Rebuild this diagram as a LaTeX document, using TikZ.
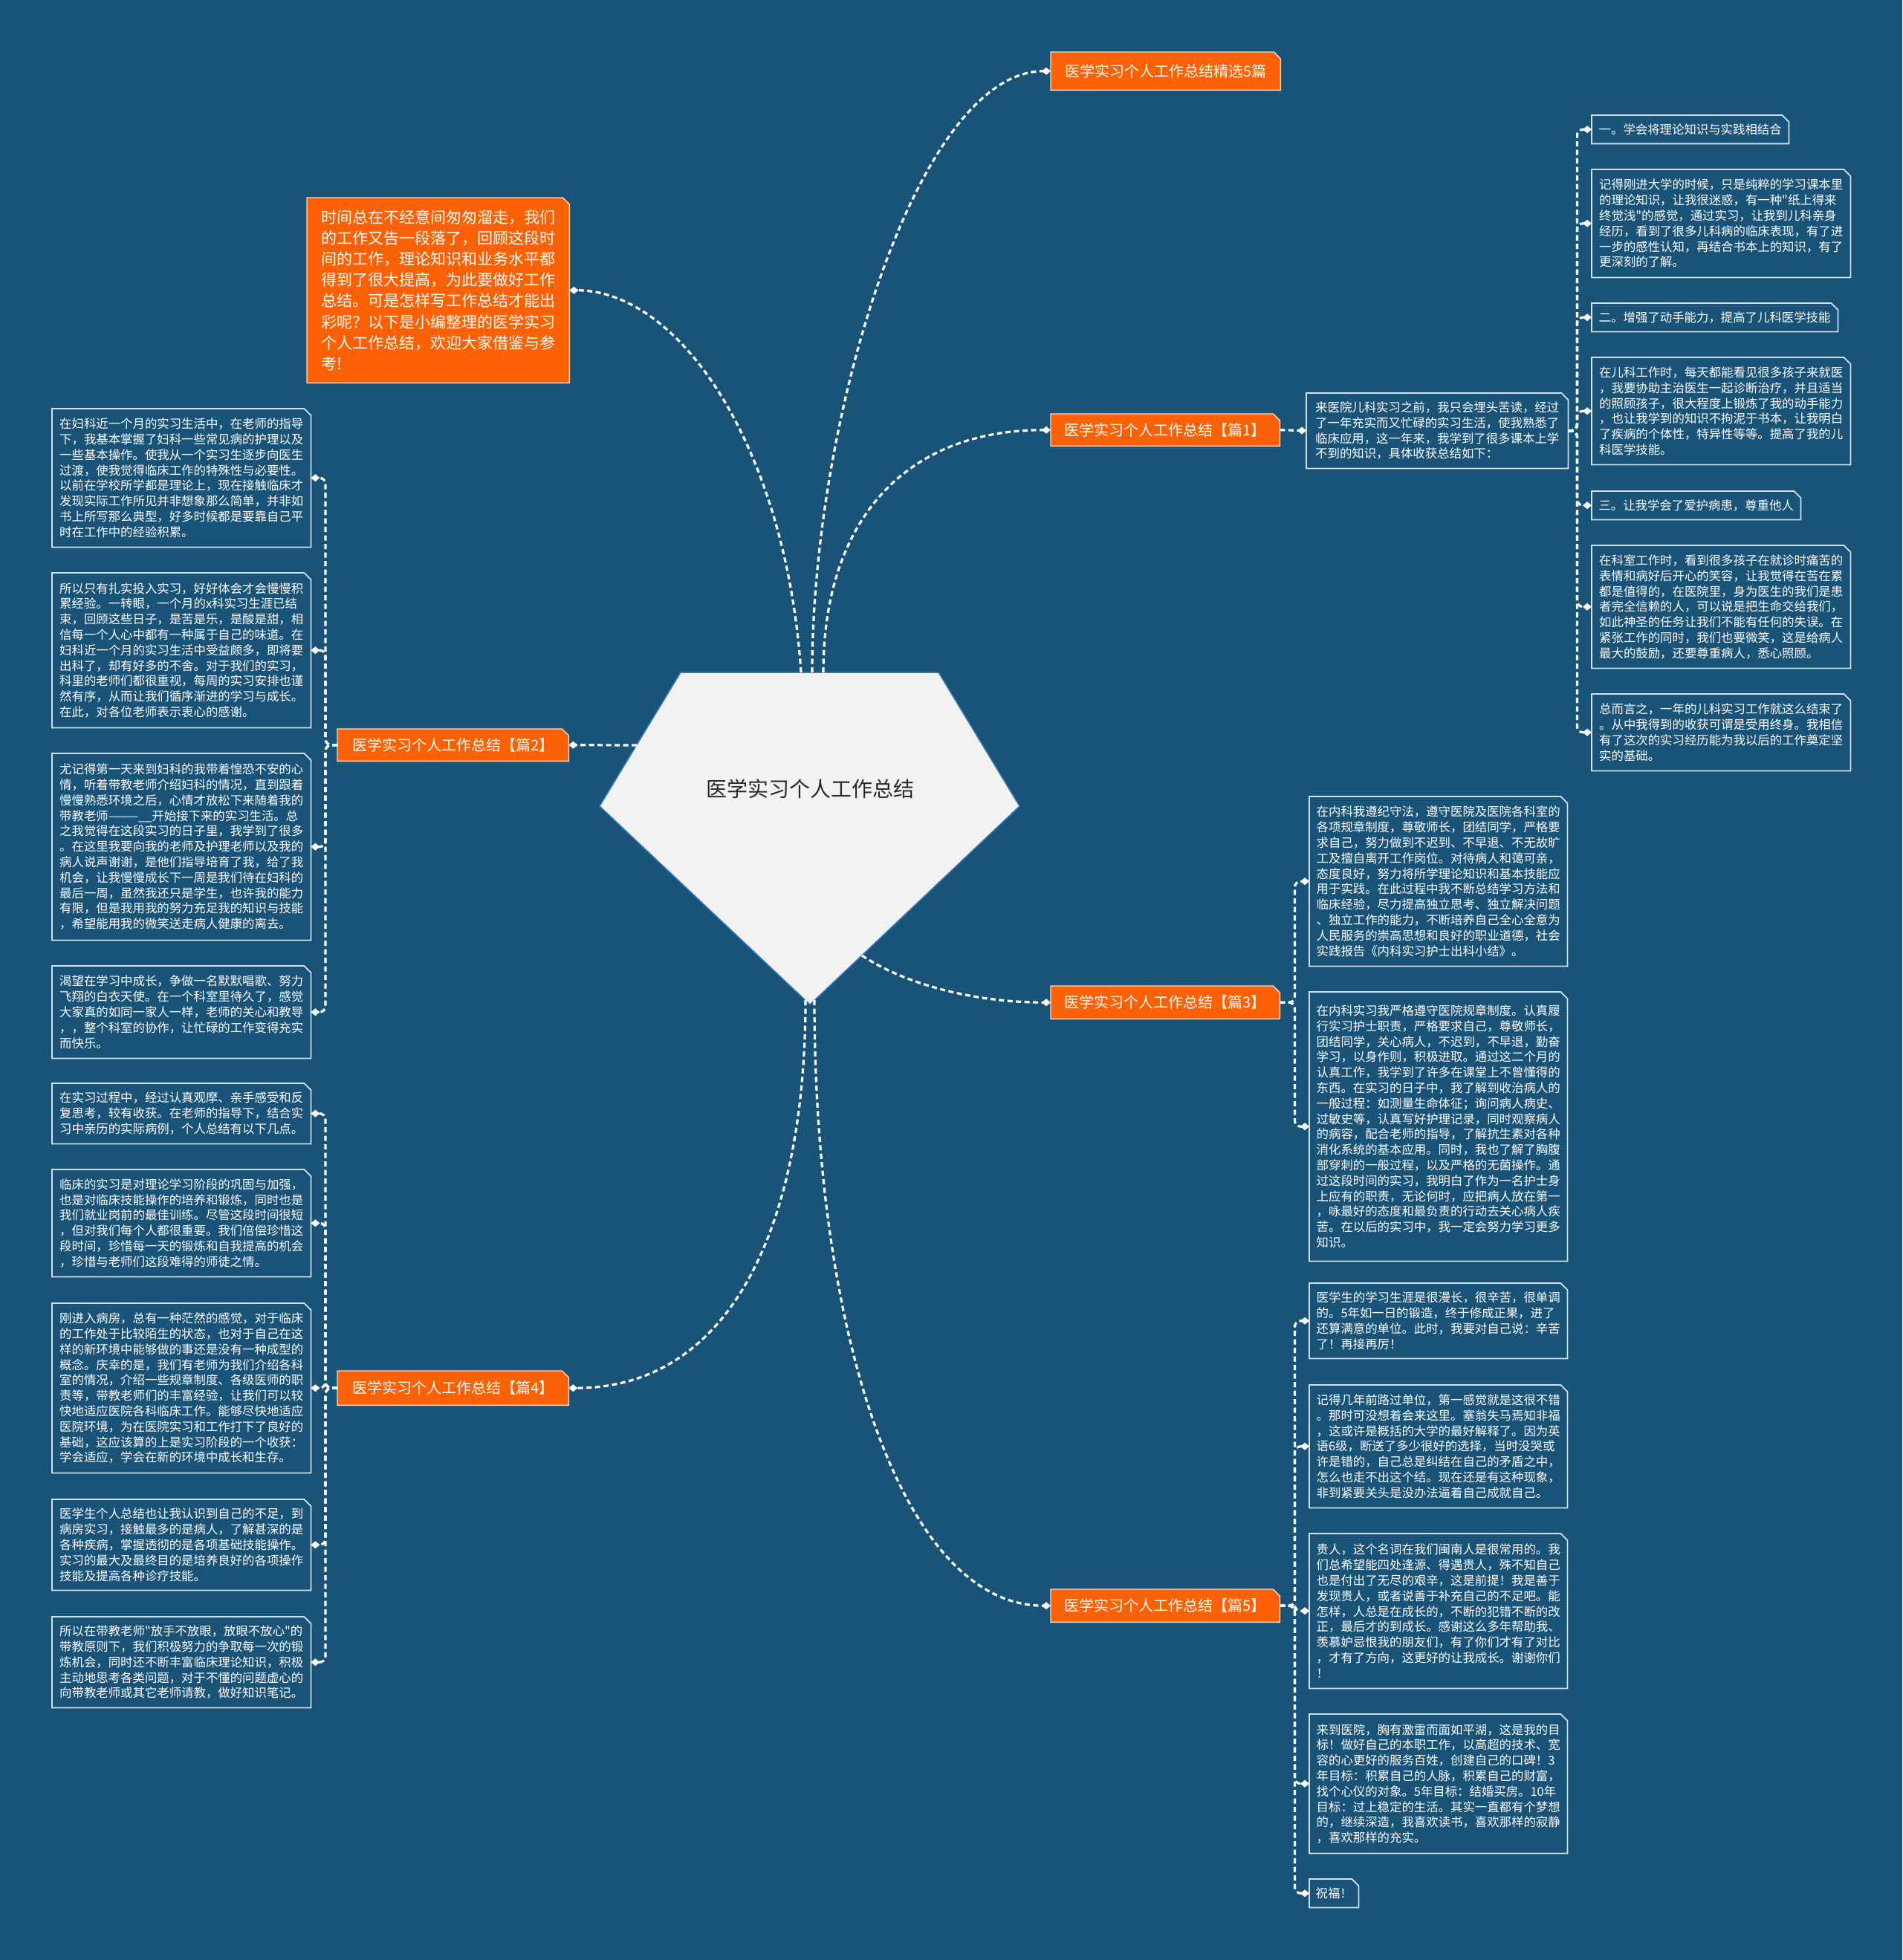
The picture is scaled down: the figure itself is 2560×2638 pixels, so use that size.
\documentclass[tikz,border=0pt]{standalone}
\usepackage{fontspec}
\newfontfamily\cjk{Noto Sans CJK SC}
\usetikzlibrary{arrows.meta,backgrounds}
\definecolor{bg}{RGB}{26,83,120}
\definecolor{org}{RGB}{252,98,5}
\definecolor{boxline}{RGB}{205,225,240}
\definecolor{pentline}{RGB}{58,123,191}
\definecolor{pentfill}{RGB}{242,242,242}
\definecolor{ctext}{RGB}{40,40,40}
\tikzset{
  base/.style={anchor=north west, inner sep=0pt, align=left, text=white},
  small/.style={base, font=\cjk\fontsize{16.4}{20.8}\selectfont},
  big/.style={base, font=\cjk\fontsize{21}{28.1}\selectfont},
  branch/.style={base, align=center, font=\cjk\fontsize{20}{24}\selectfont},
  conn/.style={draw=white, line width=3.2pt, dash pattern=on 7pt off 4.5pt,
    -{Diamond[length=12pt,width=10pt,fill=white]}},
  elbow/.style={conn, rounded corners=8pt},
  cutshape/.style={draw=boxline, line width=1.8pt},
  orgshape/.style={fill=org, draw=white!75!org, line width=1.4pt},
}
% style, name, x1, y1, x2, y2, text
\newcommand\placebox[7]{%
  \node[#1, minimum width={(#5-#3)*1pt}, minimum height={(#6-#4)*1pt}] (#2) at (#3,#4) {#7};}
\begin{document}
\begin{tikzpicture}[x=1pt,y=-1pt]
\useasboundingbox (0,0) rectangle (2560,2638);

% pentagon corners and connector starts
\coordinate (pA) at (916,905);
\coordinate (pB) at (1263,905);
\coordinate (pC) at (1372,1085);
\coordinate (pD) at (1090,1352);
\coordinate (pE) at (807,1085);
\coordinate (sT1) at (1078,905);
\coordinate (sT2) at (1093,905);
\coordinate (sT3) at (1108,905);
\coordinate (sL) at (857,1003);
\coordinate (sR) at (1160,1286);
\coordinate (sB1) at (1084,1346);
\coordinate (sB2) at (1096,1346);

\node[font=\cjk\fontsize{28}{34}\selectfont, text=ctext] (center) at (1090,1062) {医学实习个人工作总结};

% main branches
\placebox{branch}{T0}{1414}{70}{1723}{121}{医学实习个人工作总结精选5篇}
\placebox{big}{intro}{413}{266}{766}{515}{时间总在不经意间匆匆溜走，我们\\的工作又告一段落了，回顾这段时\\间的工作，理论知识和业务水平都\\得到了很大提高，为此要做好工作\\总结。可是怎样写工作总结才能出\\彩呢？以下是小编整理的医学实习\\个人工作总结，欢迎大家借鉴与参\\考!}
\placebox{branch}{P1}{1414}{557}{1722}{600}{医学实习个人工作总结【篇1】}
\placebox{branch}{P2}{454}{981}{765}{1024}{医学实习个人工作总结【篇2】}
\placebox{branch}{P3}{1414}{1327}{1722}{1371}{医学实习个人工作总结【篇3】}
\placebox{branch}{P4}{454}{1845}{765}{1891}{医学实习个人工作总结【篇4】}
\placebox{branch}{P5}{1414}{2139}{1722}{2183}{医学实习个人工作总结【篇5】}

% 篇1
\placebox{small}{P1t}{1758}{529}{2110}{630}{来医院儿科实习之前，我只会埋头苦读，经过\\了一年充实而又忙碌的实习生活，使我熟悉了\\临床应用，这一年来，我学到了很多课本上学\\不到的知识，具体收获总结如下：}
\placebox{small}{R1}{2142}{155}{2407}{193}{一。学会将理论知识与实践相结合}
\placebox{small}{R2}{2142}{228}{2490}{373}{记得刚进大学的时候，只是纯粹的学习课本里\\的理论知识，让我很迷惑，有一种"纸上得来\\终觉浅"的感觉，通过实习，让我到儿科亲身\\经历，看到了很多儿科病的临床表现，有了进\\一步的感性认知，再结合书本上的知识，有了\\更深刻的了解。}
\placebox{small}{R3}{2142}{408}{2473}{446}{二。增强了动手能力，提高了儿科医学技能}
\placebox{small}{R4}{2142}{481}{2490}{625}{在儿科工作时，每天都能看见很多孩子来就医\\，我要协助主治医生一起诊断治疗，并且适当\\的照顾孩子，很大程度上锻炼了我的动手能力\\，也让我学到的知识不拘泥于书本，让我明白\\了疾病的个体性，特异性等等。提高了我的儿\\科医学技能。}
\placebox{small}{R5}{2142}{661}{2423}{699}{三。让我学会了爱护病患，尊重他人}
\placebox{small}{R6}{2142}{734}{2490}{899}{在科室工作时，看到很多孩子在就诊时痛苦的\\表情和病好后开心的笑容，让我觉得在苦在累\\都是值得的，在医院里，身为医生的我们是患\\者完全信赖的人，可以说是把生命交给我们，\\如此神圣的任务让我们不能有任何的失误。在\\紧张工作的同时，我们也要微笑，这是给病人\\最大的鼓励，还要尊重病人，悉心照顾。}
\placebox{small}{R7}{2142}{934}{2490}{1037}{总而言之，一年的儿科实习工作就这么结束了\\。从中我得到的收获可谓是受用终身。我相信\\有了这次的实习经历能为我以后的工作奠定坚\\实的基础。}

% 篇2
\placebox{small}{L1}{70}{550}{418}{736}{在妇科近一个月的实习生活中，在老师的指导\\下，我基本掌握了妇科一些常见病的护理以及\\一些基本操作。使我从一个实习生逐步向医生\\过渡，使我觉得临床工作的特殊性与必要性。\\以前在学校所学都是理论上，现在接触临床才\\发现实际工作所见并非想象那么简单，并非如\\书上所写那么典型，好多时候都是要靠自己平\\时在工作中的经验积累。}
\placebox{small}{L2}{70}{771}{418}{979}{所以只有扎实投入实习，好好体会才会慢慢积\\累经验。一转眼，一个月的x科实习生涯已结\\束，回顾这些日子，是苦是乐，是酸是甜，相\\信每一个人心中都有一种属于自己的味道。在\\妇科近一个月的实习生活中受益颇多，即将要\\出科了，却有好多的不舍。对于我们的实习，\\科里的老师们都很重视，每周的实习安排也谨\\然有序，从而让我们循序渐进的学习与成长。\\在此，对各位老师表示衷心的感谢。}
\placebox{small}{L3}{70}{1014}{418}{1265}{尤记得第一天来到妇科的我带着惶恐不安的心\\情，听着带教老师介绍妇科的情况，直到跟着\\慢慢熟悉环境之后，心情才放松下来随着我的\\带教老师———\_\_开始接下来的实习生活。总\\之我觉得在这段实习的日子里，我学到了很多\\。在这里我要向我的老师及护理老师以及我的\\病人说声谢谢，是他们指导培育了我，给了我\\机会，让我慢慢成长下一周是我们待在妇科的\\最后一周，虽然我还只是学生，也许我的能力\\有限，但是我用我的努力充足我的知识与技能\\，希望能用我的微笑送走病人健康的离去。}
\placebox{small}{L4}{70}{1300}{418}{1424}{渴望在学习中成长，争做一名默默唱歌、努力\\飞翔的白衣天使。在一个科室里待久了，感觉\\大家真的如同一家人一样，老师的关心和教导\\，，整个科室的协作，让忙碌的工作变得充实\\而快乐。}

% 篇4
\placebox{small}{L5}{70}{1458}{418}{1539}{在实习过程中，经过认真观摩、亲手感受和反\\复思考，较有收获。在老师的指导下，结合实\\习中亲历的实际病例，个人总结有以下几点。}
\placebox{small}{L6}{70}{1574}{418}{1718}{临床的实习是对理论学习阶段的巩固与加强，\\也是对临床技能操作的培养和锻炼，同时也是\\我们就业岗前的最佳训练。尽管这段时间很短\\，但对我们每个人都很重要。我们倍偿珍惜这\\段时间，珍惜每一天的锻炼和自我提高的机会\\，珍惜与老师们这段难得的师徒之情。}
\placebox{small}{L7}{70}{1754}{418}{1982}{刚进入病房，总有一种茫然的感觉，对于临床\\的工作处于比较陌生的状态，也对于自己在这\\样的新环境中能够做的事还是没有一种成型的\\概念。庆幸的是，我们有老师为我们介绍各科\\室的情况，介绍一些规章制度、各级医师的职\\责等，带教老师们的丰富经验，让我们可以较\\快地适应医院各科临床工作。能够尽快地适应\\医院环境，为在医院实习和工作打下了良好的\\基础，这应该算的上是实习阶段的一个收获：\\学会适应，学会在新的环境中成长和生存。}
\placebox{small}{L8}{70}{2018}{418}{2140}{医学生个人总结也让我认识到自己的不足，到\\病房实习，接触最多的是病人，了解甚深的是\\各种疾病，掌握透彻的是各项基础技能操作。\\实习的最大及最终目的是培养良好的各项操作\\技能及提高各种诊疗技能。}
\placebox{small}{L9}{70}{2176}{418}{2298}{所以在带教老师"放手不放眼，放眼不放心"的\\带教原则下，我们积极努力的争取每一次的锻\\炼机会，同时还不断丰富临床理论知识，积极\\主动地思考各类问题，对于不懂的问题虚心的\\向带教老师或其它老师请教，做好知识笔记。}

% 篇3
\placebox{small}{M1}{1762}{1072}{2109}{1300}{在内科我遵纪守法，遵守医院及医院各科室的\\各项规章制度，尊敬师长，团结同学，严格要\\求自己，努力做到不迟到、不早退、不无故旷\\工及擅自离开工作岗位。对待病人和蔼可亲，\\态度良好，努力将所学理论知识和基本技能应\\用于实践。在此过程中我不断总结学习方法和\\临床经验，尽力提高独立思考、独立解决问题\\、独立工作的能力，不断培养自己全心全意为\\人民服务的崇高思想和良好的职业道德，社会\\实践报告《内科实习护士出科小结》。}
\placebox{small}{M2}{1762}{1335}{2109}{1697}{在内科实习我严格遵守医院规章制度。认真履\\行实习护士职责，严格要求自己，尊敬师长，\\团结同学，关心病人，不迟到，不早退，勤奋\\学习，以身作则，积极进取。通过这二个月的\\认真工作，我学到了许多在课堂上不曾懂得的\\东西。在实习的日子中，我了解到收治病人的\\一般过程：如测量生命体征；询问病人病史、\\过敏史等，认真写好护理记录，同时观察病人\\的病容，配合老师的指导，了解抗生素对各种\\消化系统的基本应用。同时，我也了解了胸腹\\部穿刺的一般过程，以及严格的无菌操作。通\\过这段时间的实习，我明白了作为一名护士身\\上应有的职责，无论何时，应把病人放在第一\\，咏最好的态度和最负责的行动去关心病人疾\\苦。在以后的实习中，我一定会努力学习更多\\知识。}

% 篇5
\placebox{small}{N1}{1762}{1727}{2109}{1828}{医学生的学习生涯是很漫长，很辛苦，很单调\\的。5年如一日的锻造，终于修成正果，进了\\还算满意的单位。此时，我要对自己说：辛苦\\了！再接再厉！}
\placebox{small}{N2}{1762}{1864}{2109}{2029}{记得几年前路过单位，第一感觉就是这很不错\\。那时可没想着会来这里。塞翁失马焉知非福\\，这或许是概括的大学的最好解释了。因为英\\语6级，断送了多少很好的选择，当时没哭或\\许是错的，自己总是纠结在自己的矛盾之中，\\怎么也走不出这个结。现在还是有这种现象，\\非到紧要关头是没办法逼着自己成就自己。}
\placebox{small}{N3}{1762}{2064}{2109}{2272}{贵人，这个名词在我们闽南人是很常用的。我\\们总希望能四处逢源、得遇贵人，殊不知自己\\也是付出了无尽的艰辛，这是前提！我是善于\\发现贵人，或者说善于补充自己的不足吧。能\\怎样，人总是在成长的，不断的犯错不断的改\\正，最后才的到成长。感谢这么多年帮助我、\\羡慕妒忌恨我的朋友们，有了你们才有了对比\\，才有了方向，这更好的让我成长。谢谢你们\\！}
\placebox{small}{N4}{1762}{2307}{2109}{2494}{来到医院，胸有激雷而面如平湖，这是我的目\\标！做好自己的本职工作，以高超的技术、宽\\容的心更好的服务百姓，创建自己的口碑！3\\年目标：积累自己的人脉，积累自己的财富，\\找个心仪的对象。5年目标：结婚买房。10年\\目标：过上稳定的生活。其实一直都有个梦想\\的，继续深造，我喜欢读书，喜欢那样的寂静\\，喜欢那样的充实。}
\placebox{small}{N5}{1762}{2529}{1828}{2567}{祝福！}

% shapes behind the texts
\begin{pgfonlayer}{background}
\fill[bg] (0,0) rectangle (2560,2638);
\filldraw[fill=pentfill, draw=pentline, line width=1.5pt] (pA) -- (pB) -- (pC) -- (pD) -- (pE) -- cycle;
\foreach \n in {T0,intro,P1,P2,P3,P4,P5}
  \draw[orgshape] (\n.north west) -- ([xshift=-9pt]\n.north east) -- ([yshift=-9pt]\n.north east) -- (\n.south east) -- (\n.south west) -- cycle;
\foreach \n in {P1t,R1,R2,R3,R4,R5,R6,R7,L1,L2,L3,L4,L5,L6,L7,L8,L9,M1,M2,N1,N2,N3,N4,N5}
  \draw[cutshape] (\n.north west) -- ([xshift=-9pt]\n.north east) -- ([yshift=-9pt]\n.north east) -- (\n.south east) -- (\n.south west) -- cycle;
\end{pgfonlayer}

% connectors from the centre
\draw[conn] (sT2) .. controls +(0,-340) and +(-180,0) .. (T0.west);
\draw[conn] (sT1) .. controls +(-20,-300) and +(150,0) .. (intro.east);
\draw[conn] (sT3) .. controls +(0,-200) and +(-200,0) .. (P1.west);
\draw[conn] (sL) -- (P2.east);
\draw[conn] (sR) .. controls +(60,40) and +(-100,0) .. (P3.west);
\draw[conn] (sB1) .. controls +(0,300) and +(220,0) .. (P4.east);
\draw[conn] (sB2) .. controls +(0,450) and +(-200,0) .. (P5.west);

% 篇1
\draw[conn] (P1.east) -- (P1t.west);
\foreach \c in {R1,R2,R3,R4,R5,R6,R7}
  \draw[elbow] (P1t.east) -- ++(12,0) |- (\c.west);
% 篇2
\foreach \c in {L1,L2,L3,L4}
  \draw[elbow] (P2.west) -- ++(-16,0) |- (\c.east);
% 篇3
\foreach \c in {M1,M2}
  \draw[elbow] (P3.east) -- ++(20,0) |- (\c.west);
% 篇4
\foreach \c in {L5,L6,L7,L8,L9}
  \draw[elbow] (P4.west) -- ++(-16,0) |- (\c.east);
% 篇5
\foreach \c in {N1,N2,N3,N4,N5}
  \draw[elbow] (P5.east) -- ++(20,0) |- (\c.west);
\end{tikzpicture}
\end{document}
